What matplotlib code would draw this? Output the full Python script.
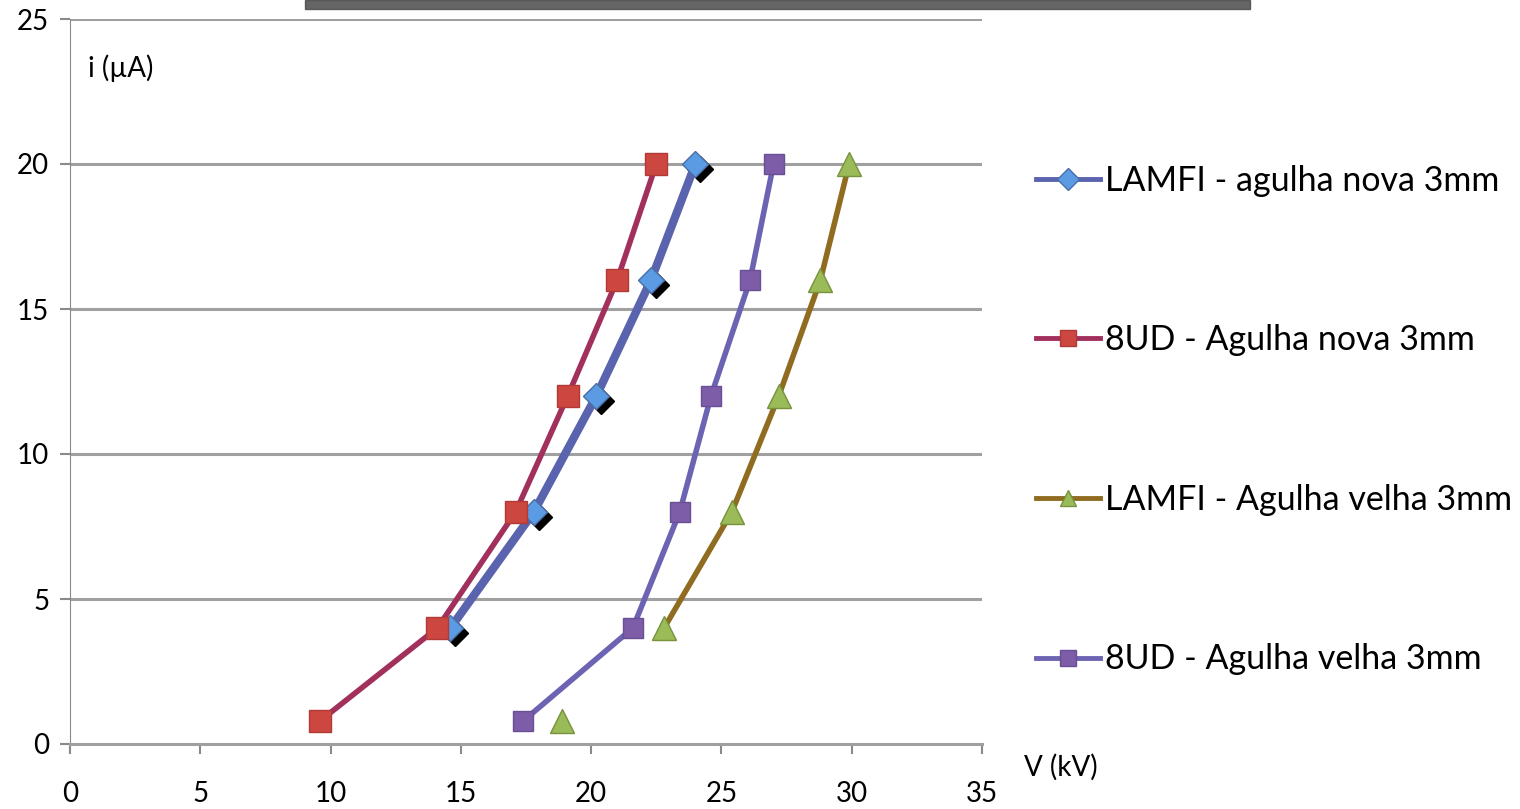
import numpy as np
import matplotlib
matplotlib.use("Agg")
import matplotlib.pyplot as plt
import matplotlib.transforms as mtransforms
from matplotlib.patches import Rectangle

plt.rcParams['font.family'] = ['Lato', 'DejaVu Sans']

# data
current = [4, 8, 12, 16, 20]                         # i (uA)
v_lamfi_nova = [14.6, 17.8, 20.2, 22.3, 24.0]
current_8ud = [0.8, 4, 8, 12, 16, 20]
v_8ud_nova = [9.6, 14.1, 17.1, 19.1, 21.0, 22.5]
v_8ud_velha = [17.4, 21.6, 23.4, 24.6, 26.1, 27.0]
current_lamfi_velha = [0.8, np.nan, 4, 8, 12, 16, 20]  # first point is not joined
v_lamfi_velha = [18.9, np.nan, 22.8, 25.4, 27.2, 28.8, 29.9]

labels = ["LAMFI - agulha nova 3mm", "8UD - Agulha nova 3mm",
          "LAMFI - Agulha velha 3mm", "8UD - Agulha velha 3mm"]
x_ticks = [0, 5, 10, 15, 20, 25, 30, 35]
y_ticks = [0, 5, 10, 15, 20, 25]

fig = plt.figure(figsize=(15.2, 8.09), dpi=100)
ax = fig.add_axes([70 / 1520, 1 - 744 / 809, 912 / 1520, 725 / 809])

# dark bar cut off at the top of the slide
fig.patches.append(Rectangle((305 / 1520, 1 - 9 / 809), 945 / 1520, 9 / 809,
                             transform=fig.transFigure, color="#4a4a4a",
                             alpha=0.85, zorder=0))

for y in y_ticks[1:]:
    ax.axhline(y, color="#a0a0a0", lw=2.2, zorder=1)

# LAMFI nova: shadow first, then the blue diamonds
shadow = ax.transData + mtransforms.ScaledTranslation(5 / 100, -5 / 100, fig.dpi_scale_trans)
ax.plot(v_lamfi_nova, current, ls="none", marker="D", ms=13, color="black",
        transform=shadow, zorder=3)
ax.plot(v_lamfi_nova, current, color="#5a63ad", lw=6, marker="D", ms=13,
        mfc="#5b9be3", mec="#4a6fa8", mew=1, zorder=4, label=labels[0])

ax.plot(v_8ud_nova, current_8ud, color="#a2305c", lw=4, marker="s", ms=16,
        mfc="#cc4740", mec="#b03a35", mew=1, zorder=5, label=labels[1])
ax.plot(v_lamfi_velha, current_lamfi_velha, color="#8f6c1f", lw=4, marker="^",
        ms=17, mfc="#9bbb59", mec="#76923c", mew=1, zorder=4, label=labels[2])
ax.plot(v_8ud_velha, current_8ud, color="#6c64b2", lw=4, marker="s", ms=15,
        mfc="#7d5ca8", mec="#6a4f96", mew=1, zorder=4, label=labels[3])

ax.set_xlim(0, 35)
ax.set_ylim(0, 25)
ax.set_xticks(x_ticks)
ax.set_yticks(y_ticks)
ax.tick_params(axis="both", labelsize=20, colors="#8a8a8a", labelcolor="black",
               length=7, width=1.5)
ax.tick_params(axis="x", pad=20)
ax.tick_params(axis="y", pad=8)
for side in ("top", "right"):
    ax.spines[side].set_visible(False)
ax.spines["left"].set_color("#8a8a8a")
ax.spines["bottom"].set_color("#a0a0a0")
ax.spines["bottom"].set_linewidth(2.2)

ax.text(0.7, 23.3, "i (\u00b5A)", fontsize=20, ha="left", va="center")
ax.text(36.6, -0.8, "V (kV)", fontsize=20, ha="left", va="center", clip_on=False)

leg = ax.legend(loc="upper left", bbox_to_anchor=(1022 / 1520, 1 - 151 / 809),
                bbox_transform=fig.transFigure, frameon=False, fontsize=24.5,
                handlelength=1.9, handletextpad=0.15, labelspacing=3.75,
                borderaxespad=0)
for h in leg.legend_handles:
    h.set_linewidth(3.5)
    h.set_markersize(11)

fig.savefig("out.png", dpi=100)
